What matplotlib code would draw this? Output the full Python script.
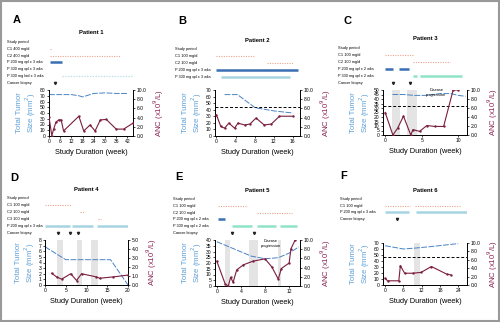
import matplotlib
matplotlib.use('Agg')
import matplotlib.pyplot as plt
from matplotlib.patches import Rectangle

plt.rcParams['font.family'] = ['Liberation Sans', 'DejaVu Sans']

W, H = 500, 322

# ---- Patient 1 ----
p1_rows = ['Study period', 'C1 400 mg/d', 'C2 400 mg/d', 'P 200 mg qd x 3 wks',
           'P 300 mg qd x 3 wks', 'P 300 mg bid x 3 wks', 'Cancer biopsy']
p1_bars = [(1, 0.3, 0.9, 'dot'), (2, 0.5, 38, 'dot'), (3, 0.5, 7, 'blue'),
           (4, 6, 46, 'arrow'), (5, 7, 45, 'ldot'), (6, 3, 3, 'event')]
p1_tumor_wk = [0, 12, 16, 18, 24, 30, 36, 42]
p1_tumor = [72, 72, 70, 68, 74, 75, 74, 74]
p1_anc_wk = [0, 1.5, 2.5, 3.7, 5.2, 6.5, 7.8, 16, 18.6, 22, 24.7, 27.5, 30.7, 36, 40, 45]
p1_anc = [4.1, 0.1, 1.5, 3.0, 3.5, 3.5, 1.1, 4.3, 1.1, 2.4, 1.1, 3.5, 3.6, 1.5, 1.5, 2.8]
p1_xticks = [0, 6, 12, 18, 24, 30, 36, 42]
p1_yticks = [0, 10, 20, 30, 40, 50, 60, 70, 80]

# ---- Patient 2 ----
p2_rows = ['Study period', 'C1 100 mg/d', 'C2 100 mg/d', 'P 200 mg qd x 3 wks', 'P 300 mg qd x 3 wks']
p2_bars = [(1, 0, 8, 'dot'), (2, 10.5, 16, 'dot'), (3, 0, 17, 'blue'), (4, 1, 15.5, 'lblue')]
p2_tumor_wk = [1.7, 4.4, 8.1, 12.2, 16]
p2_tumor = [63, 63, 43, 38, 35]
p2_anc_wk = [0, 0.9, 1.7, 2.6, 3.8, 4.5, 5.9, 7, 8.3, 10, 11.5, 13.2, 16]
p2_anc = [4.6, 2.1, 1.7, 2.8, 1.7, 2.8, 2.4, 2.6, 3.9, 2.4, 2.6, 4.3, 4.3]
p2_threshold = 44
p2_xticks = [0, 4, 8, 12, 16]
p2_yticks = [0, 10, 20, 30, 40, 50, 60, 70]

# ---- Patient 3 ----
p3_rows = ['Study period', 'C1 100 mg/d', 'C2 100 mg/d', 'P 200 mg qd x 2 wks',
           'P 300 mg qd x 2 wks', 'Cancer biopsy']
p3_bars = [(1, 0, 3.8, 'dot'), (2, 3.8, 8.9, 'dot'), (3, 0, 1.1, 'blue'), (3, 1.9, 3.3, 'blue'),
           (4, 3.8, 4.4, 'mint'), (4, 4.8, 10.5, 'mint'), (5, 1.1, 1.1, 'event'), (5, 3.4, 3.4, 'event')]
p3_tumor_wk = [1, 2.5, 4, 5.5, 7.5, 9, 10, 11]
p3_tumor = [45, 45, 44, 44, 46, 46, 44, 43]
p3_anc_wk = [0, 1.05, 1.7, 2.5, 3.5, 3.8, 4.7, 5.7, 6.8, 8.0, 9.3, 9.9]
p3_anc = [5.0, 0, 1.5, 4.2, 0, 1.2, 0.8, 2.1, 1.9, 1.9, 10, 10]
p3_bands = [(1.0, 2.0), (3.0, 4.4)]
p3_threshold = 32
p3_xticks = [0, 5, 10]
p3_yticks = [0, 5, 10, 15, 20, 25, 30, 35, 40, 45, 50]

# ---- Patient 4 ----
p4_rows = ['Study period', 'C1 100 mg/d', 'C2 100 mg/d', 'C3 100 mg/d',
           'P 200 mg qd x 3 wks', 'Cancer biopsy']
p4_bars = [(1, 0, 6.5, 'dot'), (2, 8.5, 9.3, 'dot'), (3, 12.8, 13.6, 'dot'),
           (4, 0, 6.0, 'lblue'), (4, 6.5, 11.5, 'lblue'), (4, 12.5, 20, 'lblue'),
           (5, 3.1, 3.1, 'event'), (5, 6, 6, 'event'), (5, 8, 8, 'event')]
p4_tumor_wk = [0, 5, 15.8, 20]
p4_tumor = [6.8, 4.5, 4.5, 0]
p4_anc_wk = [1.6, 2.8, 4.0, 6.2, 7.6, 8.8, 12.4, 13.2, 16.4, 20]
p4_anc = [1.3, 0.9, 0.65, 1.25, 0.5, 1.25, 0.9, 0.75, 0.9, 1.1]
p4_bands = [(2.8, 4.4), (7.6, 8.8), (11.2, 12.8)]
p4_xticks = [0, 5, 10, 15, 20]
p4_yticks = [0, 1, 2, 3, 4, 5, 6, 7, 8]

# ---- Patient 5 ----
p5_rows = ['Study period', 'C1 100 mg/d', 'C2 100 mg/d', 'P 200 mg qd x 2 wks',
           'P 300 mg qd x 2 wks', 'Cancer biopsy']
p5_bars = [(1, 0.2, 4.9, 'dot'), (2, 6.6, 12.5, 'dot'), (3, 0.2, 1.3, 'blue'),
           (4, 2.5, 5.9, 'mint'), (4, 6.6, 9.9, 'mint'), (4, 10.4, 13.3, 'mint'),
           (5, 2.5, 2.5, 'event'), (5, 6.2, 6.2, 'event')]
p5_tumor_wk = [0, 5.7, 8, 10.2, 12, 13.6]
p5_tumor = [38.5, 26, 23.7, 24.6, 28.6, 34]
p5_anc_wk = [0, 1.4, 1.9, 2.3, 2.7, 3.3, 4.4, 6, 8, 9.1, 10.2, 10.7, 12, 12.3, 13]
p5_anc = [5.4, 0.4, 0, 1.9, 0.8, 3.5, 4.6, 5.4, 5.9, 4.2, 1.5, 3.8, 5.0, 8.1, 10]
p5_bands = [(1.4, 2.2), (5.3, 6.8), (10.1, 10.7)]
p5_xticks = [0, 4, 8, 12]
p5_yticks = [0, 5, 10, 15, 20, 25, 30, 35, 40]

# ---- Patient 6 ----
p6_rows = ['Study period', 'C1 100 mg/d', 'P 200 mg qd x 3 wks', 'Cancer biopsy']
p6_bars = [(1, 0, 8.2, 'dot'), (1, 9.9, 24.7, 'dot'), (2, 0, 7.9, 'lblue'),
           (2, 10.2, 27, 'lblue'), (3, 3.9, 3.9, 'event')]
p6_tumor_wk = [0, 6, 10, 15, 24]
p6_tumor = [65.5, 60, 61.6, 64, 69]
p6_anc_wk = [0, 0.8, 4.5, 5, 6.4, 9, 11.8, 15.2, 20.2, 21.6]
p6_anc = [1.6, 1.0, 1.0, 4.6, 2.8, 2.8, 3.0, 4.4, 2.6, 2.4]
p6_bands = [(9.4, 11.3)]
p6_threshold = 46
p6_xticks = [0, 6, 12, 18, 24]
p6_yticks = [0, 10, 20, 30, 40, 50, 60, 70]

anc_ticks = [0, 2, 4, 6, 8, 10]
anc_ticks_p4 = [0, 1, 2, 3, 4, 5]

BLUE = '#4a82c3'
LBL = '#5d9fd6'
RED = '#7b1d3f'
RLBL = '#8b2452'

styles = {
    'dot': dict(color='#e9a48f', lw=0.8, ls=(0, (1, 1.2))),
    'ldot': dict(color='#b8dce8', lw=0.9, ls=(0, (1, 1.2))),
    'blue': dict(color='#3a6fb3', lw=1.8, ls='-'),
    'lblue': dict(color='#a6d4e2', lw=1.8, ls='-'),
    'mint': dict(color='#8fe3c6', lw=1.8, ls='-'),
}


def rect(l, t, r, b):
    return [l / W, 1 - b / H, (r - l) / W, (b - t) / H]


fig = plt.figure(figsize=(W / 100, H / 100), dpi=100)
fig.add_artist(Rectangle((0.002, 0.003), 0.996, 0.994, transform=fig.transFigure,
                         fill=False, edgecolor='#999999', lw=1.5))


def panel(letter, letter_xy, title, box, label_x, row_top, row_step, rows, bars,
          tumor_wk, tumor, anc_wk, anc, xlim, xticks, ylim, yticks, aticks,
          bands=(), threshold=None, note=None):
    l, t, r, b = box
    fig.text(letter_xy[0] / W, 1 - letter_xy[1] / H, letter, fontsize=8, fontweight='bold',
             ha='left', va='center')
    fig.text((l + r) / 2 / W, 1 - (row_top - 9) / H, title, fontsize=4.2,
             fontweight='bold', ha='center', va='center')

    # treatment timeline rows
    n = len(rows)
    tl = fig.add_axes(rect(l, row_top - row_step / 2, r, row_top + row_step * (n - 0.5)))
    tl.set_xlim(xlim)
    tl.set_ylim(n - 0.5, -0.5)
    tl.axis('off')
    for i, name in enumerate(rows):
        fig.text(label_x / W, 1 - (row_top + i * row_step) / H, name, fontsize=2.8,
                 ha='left', va='center')
    for row, s, e, kind in bars:
        if kind == 'event':
            tl.plot([s], [row], marker='v', ms=1.6, color='#222222', lw=0)
        elif kind == 'arrow':
            tl.annotate('', xy=(e, row), xytext=(s, row),
                        arrowprops=dict(arrowstyle='-|>', color='#3cbf80', lw=1.8,
                                        mutation_scale=5, shrinkA=0, shrinkB=0))
        else:
            tl.plot([s, e], [row, row], solid_capstyle='butt', **styles[kind])

    # tumour size (left) and ANC (right)
    ax = fig.add_axes(rect(l, t, r, b))
    ax.set_xlim(xlim)
    ax.set_ylim(ylim)
    for s, e in bands:
        ax.axvspan(s, e, color='#e4e4e4', lw=0, zorder=0)
    if threshold is not None:
        ax.axhline(threshold, color='black', lw=0.7, ls=(0, (3, 2)), zorder=1)
    ax.plot(tumor_wk, tumor, color=BLUE, lw=0.7, ls=(0, (6, 1.5)), zorder=2)
    ax.set_xticks(xticks)
    ax.set_yticks(yticks)
    ax.spines['top'].set_visible(False)
    ax.tick_params(labelsize=3.6, length=1.5, width=0.5, pad=1)
    for sp in ax.spines.values():
        sp.set_linewidth(0.6)
    ax.set_xlabel('Study Duration (week)', fontsize=5.3, labelpad=3)
    ax.set_ylabel('Total Tumor\nSize (mm$^2$)', fontsize=5.6, color=LBL, labelpad=1.5,
                  linespacing=1.0)

    ax2 = ax.twinx()
    ax2.set_ylim(0, aticks[-1])
    ax2.set_yticks(aticks)
    ax2.set_yticklabels(['%.1f' % v for v in aticks])
    ax2.plot(anc_wk, anc, color=RED, lw=0.8, marker='o', ms=0.7, zorder=3)
    ax2.spines['top'].set_visible(False)
    ax2.tick_params(labelsize=3.6, length=1.5, width=0.5, pad=1)
    for sp in ax2.spines.values():
        sp.set_linewidth(0.6)
    ax2.set_ylabel('ANC (x10$^9$/L)', fontsize=5.6, color=RLBL, labelpad=4)
    if note is not None:
        ax2.text(note[0], note[1], note[2], fontsize=2.8, ha='center', va='center')


panel('A', (13, 20), 'Patient 1', (49, 90, 133, 136), 7, 42, 6.8, p1_rows, p1_bars,
      p1_tumor_wk, p1_tumor, p1_anc_wk, p1_anc, (0, 45), p1_xticks, (0, 80), p1_yticks,
      anc_ticks)
panel('B', (178, 21), 'Patient 2', (215, 90, 300, 136), 175, 49, 7, p2_rows, p2_bars,
      p2_tumor_wk, p2_tumor, p2_anc_wk, p2_anc, (-0.3, 17.5), p2_xticks, (0, 70), p2_yticks,
      anc_ticks, threshold=p2_threshold)
panel('C', (343, 21), 'Patient 3', (383, 90, 467, 135), 338, 48, 7, p3_rows, p3_bars,
      p3_tumor_wk, p3_tumor, p3_anc_wk, p3_anc, (-0.3, 11.2), p3_xticks, (0, 50), p3_yticks,
      anc_ticks, bands=p3_bands, threshold=p3_threshold,
      note=(7.0, 9.4, 'Disease\nprogression'))
panel('D', (10, 178), 'Patient 4', (45, 240, 128, 285), 7, 198, 7, p4_rows, p4_bars,
      p4_tumor_wk, p4_tumor, p4_anc_wk, p4_anc, (0, 20), p4_xticks, (0, 8), p4_yticks,
      anc_ticks_p4, bands=p4_bands)
panel('E', (175, 177), 'Patient 5', (215, 240, 300, 286), 173, 199, 6.8, p5_rows, p5_bars,
      p5_tumor_wk, p5_tumor, p5_anc_wk, p5_anc, (-0.3, 13.8), p5_xticks, (0, 40), p5_yticks,
      anc_ticks, bands=p5_bands, note=(9.0, 9.2, 'Disease\nprogression'))
panel('F', (340, 176), 'Patient 6', (383, 243, 467, 285), 340, 199, 6.7, p6_rows, p6_bars,
      p6_tumor_wk, p6_tumor, p6_anc_wk, p6_anc, (-0.7, 26.9), p6_xticks, (0, 70), p6_yticks,
      anc_ticks, bands=p6_bands, threshold=p6_threshold)

fig.savefig('out.png', dpi=100)
